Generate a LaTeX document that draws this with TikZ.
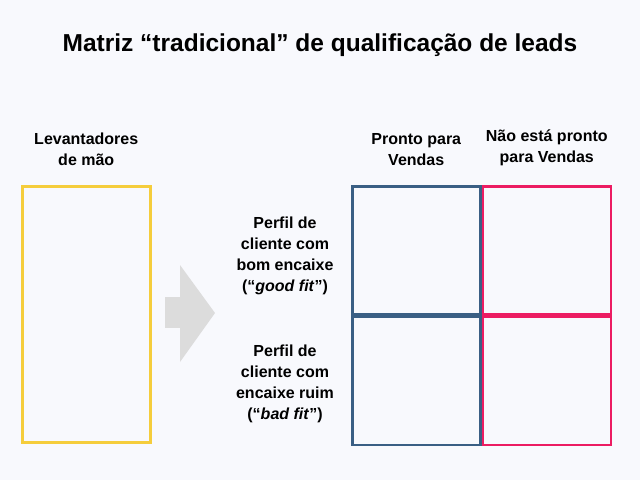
\documentclass[tikz,border=0pt]{standalone}
\usepackage{fontspec}
\setmainfont{Liberation Sans}
\usetikzlibrary{positioning}
\definecolor{bgcol}{HTML}{F8F9FD}
\definecolor{yel}{HTML}{F5CD3C}
\definecolor{blu}{HTML}{3A5F84}
\definecolor{pnk}{HTML}{EC1C62}
\definecolor{arr}{HTML}{DCDCDC}
\tikzset{cell/.style={draw,line width=2.5pt,minimum width=128pt,minimum height=128pt,inner sep=0pt},
  lbl/.style={font=\bfseries\fontsize{16}{21}\selectfont,align=center}}
\begin{document}
\begin{tikzpicture}[x=1pt,y=-1pt]
  \fill[bgcol] (0,0) rectangle (640,480);
  \useasboundingbox (0,0) rectangle (640,480);

  %Title
  \node[font=\bfseries\fontsize{24.5}{28}\selectfont] (title) at (320,45) {Matriz “tradicional” de qualificação de leads};

  %Boxes
  \node[draw=yel,line width=2.5pt,minimum width=128pt,minimum height=256pt,inner sep=0pt,anchor=north west] (hand) at (21,185) {};
  \node[cell,draw=blu,anchor=north west] (good) at (351,185) {};
  \node[cell,draw=blu,below=0pt of good] (bad) {};
  \node[cell,draw=pnk,right=0pt of good] (goodn) {};
  \node[cell,draw=pnk,right=0pt of bad] (badn) {};

  %Labels
  \node[lbl,above=16pt of hand] (handl) {Levantadores\\de mão};
  \node[lbl,above=16pt of good] (ready) {Pronto para\\Vendas};
  \node[lbl,above=16pt of goodn] (notready) {Não está pronto\\para Vendas};
  \node[lbl] (fit) at (285,256) {Perfil de\\cliente com\\bom encaixe\\(“\textit{good fit}”)};
  \node[lbl] (badfit) at (285,384) {Perfil de\\cliente com\\encaixe ruim\\(“\textit{bad fit}”)};

  %Arrow
  \fill[arr] (165,297) rectangle (180,328);
  \fill[arr] (180,265) -- (215,313) -- (180,362) -- cycle;
\end{tikzpicture}
\end{document}
